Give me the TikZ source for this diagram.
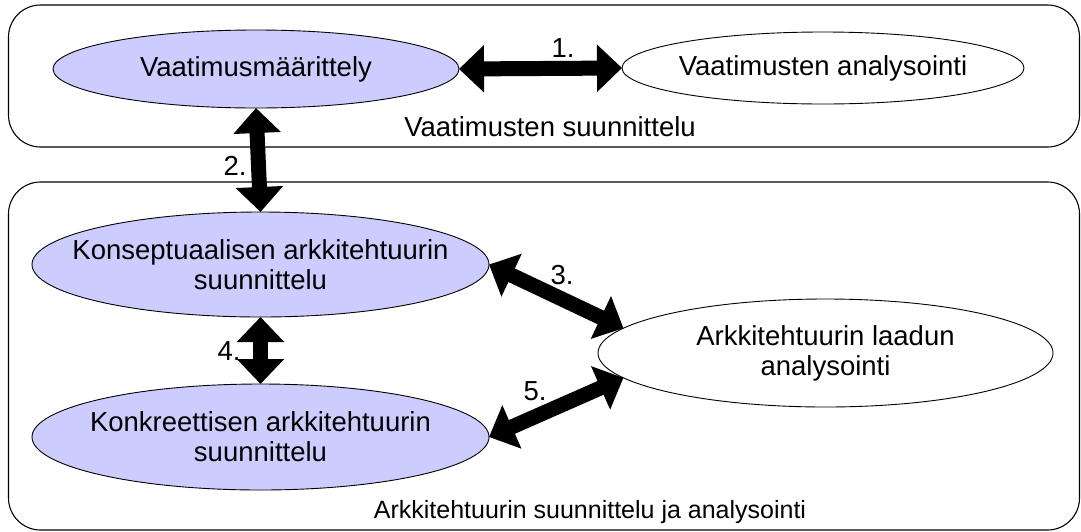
\documentclass[tikz,border=0pt]{standalone}
\usepackage{fontspec}
\setmainfont{Liberation Sans}
\usetikzlibrary{shapes.geometric,arrows.meta}
\definecolor{lav}{HTML}{CCCCFF}
\begin{document}
\begin{tikzpicture}[x=1pt,y=-1pt,
  box/.style={draw=black, line width=1.1pt, rounded corners=32pt, inner sep=0pt, outer sep=0pt},
  ell/.style={draw=black, ellipse, line width=0.9pt, inner sep=0pt, outer sep=0pt},
  lavell/.style={ell, fill=lav},
  whell/.style={ell, fill=white},
  txt/.style={font=\fontsize{27.5}{30}\selectfont, align=center, inner sep=0pt},
  smalltxt/.style={font=\fontsize{25}{30}\selectfont, align=center, inner sep=0pt},
  big/.style={line width=15pt, {Triangle[width=46pt,length=25pt]}-{Triangle[width=46pt,length=25pt]}}
]
\useasboundingbox (0,0) rectangle (1081,531);
% containers
\node[box, minimum width=1071pt, minimum height=142pt] (topbox) at (544,76) {};
\node[box, minimum width=1071pt, minimum height=348pt] (botbox) at (544,356) {};
% ellipses
\node[lavell, minimum width=406pt, minimum height=78pt] (vm) at (256,69) {};
\node[whell, minimum width=402pt, minimum height=72pt] (va) at (823,68) {};
\node[lavell, minimum width=457pt, minimum height=105pt] (ks) at (260.5,264.5) {};
\node[lavell, minimum width=457pt, minimum height=106pt] (kk) at (260.5,437) {};
\node[whell, minimum width=455pt, minimum height=108pt] (al) at (825.5,353) {};
% texts
\node[txt] (tvm) at (vm) {Vaatimusmäärittely};
\node[txt] (tva) at (va) {Vaatimusten analysointi};
\node[txt] (tks) at (ks) {Konseptuaalisen arkkitehtuurin\\suunnittelu};
\node[txt] (tkk) at (kk) {Konkreettisen arkkitehtuurin\\suunnittelu};
\node[txt] (tal) at (al) {Arkkitehtuurin laadun\\analysointi};
\node[txt] (ttop) at (550,127) {Vaatimusten suunnittelu};
\node[smalltxt] (tbot) at (590,512) {Arkkitehtuurin suunnittelu ja analysointi};
% arrows
\draw[big] (vm.east) -- (va.west);
\draw[big] (vm.south) -- (ks.north);
\draw[big] (ks.south) -- (kk.north);
\draw[big] (ks.east) -- (al.173);
\draw[big] (kk.east) -- (al.187);
% arrow labels
\node[txt] (l1) at (563,48) {1.};
\node[txt] (l2) at (235,166) {2.};
\node[txt] (l3) at (562,275) {3.};
\node[txt] (l4) at (229,351) {4.};
\node[txt] (l5) at (535,391) {5.};
\end{tikzpicture}
\end{document}
